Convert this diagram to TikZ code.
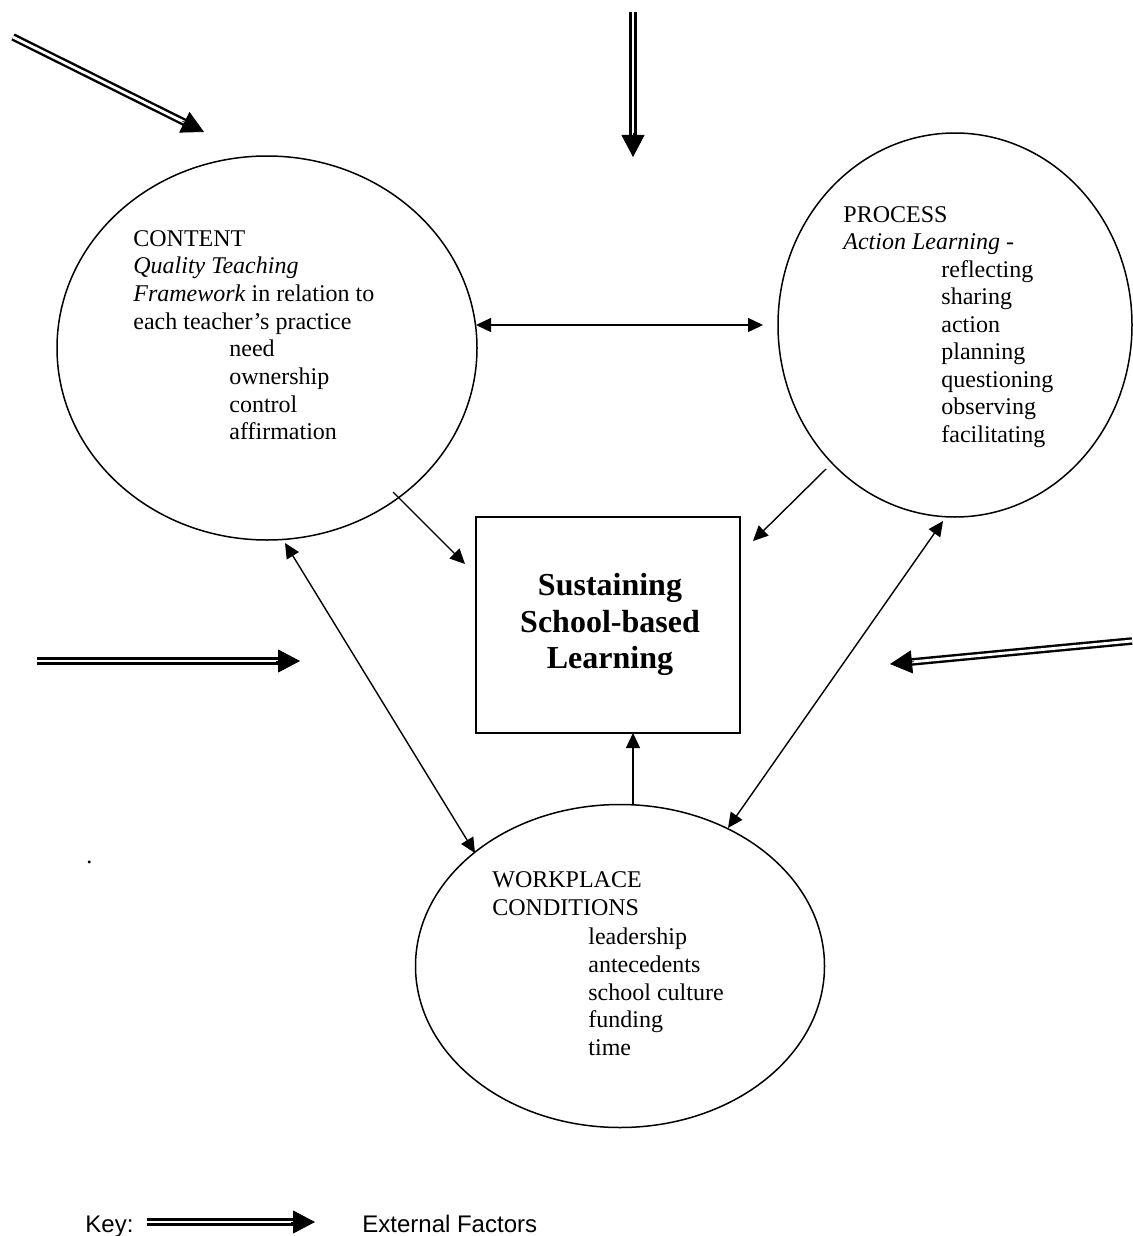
\documentclass[tikz,border=0pt]{standalone}
\usepackage{fontspec}
\setmainfont{Liberation Serif}
\newfontfamily\arialfont{Liberation Sans}
\usetikzlibrary{arrows.meta,shapes.geometric,calc}
\begin{document}
\begin{tikzpicture}[x=0.5pt,y=-0.5pt,
  oval/.style={draw, ellipse, line width=0.75pt, inner sep=0pt},
  txt/.style={anchor=base west, inner sep=0pt, font=\fontsize{12}{13.8}\selectfont},
  boldtxt/.style={anchor=base, inner sep=0pt, font=\fontsize{16}{18.4}\selectfont\bfseries},
  keytxt/.style={anchor=base west, inner sep=0pt, font=\arialfont\fontsize{12}{13.8}\selectfont},
  link/.style={line width=0.7pt, -{Triangle[length=7.5pt,width=7pt]}},
  linkboth/.style={line width=0.7pt, {Triangle[length=7.5pt,width=7pt]}-{Triangle[length=7.5pt,width=7pt]}},
  dbl/.style={double, line width=1.2pt, double distance=1.4pt},
  ehead/.style={line width=0.4pt, -{Triangle[length=11pt,width=11.5pt]}}
]
\useasboundingbox (0,0) rectangle (1132,1236);

% main shapes
\node[oval, minimum width=210pt, minimum height=192pt] (content) at (267,348) {};
\node[oval, minimum width=177pt, minimum height=192pt] (process) at (955,325) {};
\node[oval, minimum width=204.5pt, minimum height=161.5pt] (work) at (620,966) {};
\node[draw, line width=0.75pt, minimum width=132pt, minimum height=108pt, inner sep=0pt] (goal) at (608,625) {};

% content text
\node[txt] (c1) at (133,246) {CONTENT};
\node[txt] (c2) at (133,273.7) {\itshape Quality Teaching};
\node[txt] (c3) at (133,301.4) {\textit{Framework} in relation to};
\node[txt] (c4) at (133,329.1) {each teacher’s practice};
\foreach \t [count=\i] in {need, ownership, control, affirmation}
  \node[txt] (cl\i) at (229,{356.8+27.7*(\i-1)}) {\t};

% process text
\node[txt] (p1) at (843,222) {PROCESS};
\node[txt] (p2) at (843,249.5) {\textit{Action Learning} -};
\foreach \t [count=\i] in {reflecting, sharing, action, planning, questioning, observing, facilitating}
  \node[txt] (pl\i) at (941,{277+27.5*(\i-1)}) {\t};

% workplace text
\node[txt] (w1) at (492,887) {WORKPLACE};
\node[txt] (w2) at (492,915.8) {CONDITIONS};
\foreach \t [count=\i] in {leadership, antecedents, school culture, funding, time}
  \node[txt] (wl\i) at (588,{944.6+27.7*(\i-1)}) {\t};

% goal text
\node[boldtxt] (g1) at (610,595) {Sustaining};
\node[boldtxt] (g2) at (610,632) {School-based};
\node[boldtxt] (g3) at (610,668) {Learning};

% stray dot
\node[txt] (dot) at (86,863) {.};

% connector end points
\coordinate (cpA) at (476,325);
\coordinate (cpB) at (763,325);
\coordinate (cgA) at (393,492);
\coordinate (cgB) at (465,564);
\coordinate (pgA) at (826,469);
\coordinate (pgB) at (753,541);
\coordinate (cwA) at (285,543);
\coordinate (cwB) at (475,853);
\coordinate (pwA) at (943,521);
\coordinate (pwB) at (728,828);
\coordinate (wgA) at (633,805);
\coordinate (wgB) at (633,733);

\draw[linkboth] (cpA) -- (cpB);
\draw[link] (cgA) -- (cgB);
\draw[link] (pgA) -- (pgB);
\draw[linkboth] (cwA) -- (cwB);
\draw[linkboth] (pwA) -- (pwB);
\draw[link] (wgA) -- (wgB);

% external factor arrows
\foreach \n/\s/\e in {e1/{13,37}/{204,132}, e2/{633,12}/{633,157}, e3/{37,661}/{300,661}, e4/{1132,641}/{890,664}, ek/{147,1222}/{315,1222}}{
  \coordinate (\n s) at (\s);
  \coordinate (\n t) at (\e);
  \draw[dbl] (\n s) -- ($(\n t)!9pt!(\n s)$);
  \draw[ehead] ($(\n t)!12pt!(\n s)$) -- (\n t);
}

% key
\node[keytxt] (key) at (85,1232) {Key:};
\node[keytxt] (keylabel) at (362,1232) {External Factors};
\end{tikzpicture}
\end{document}
